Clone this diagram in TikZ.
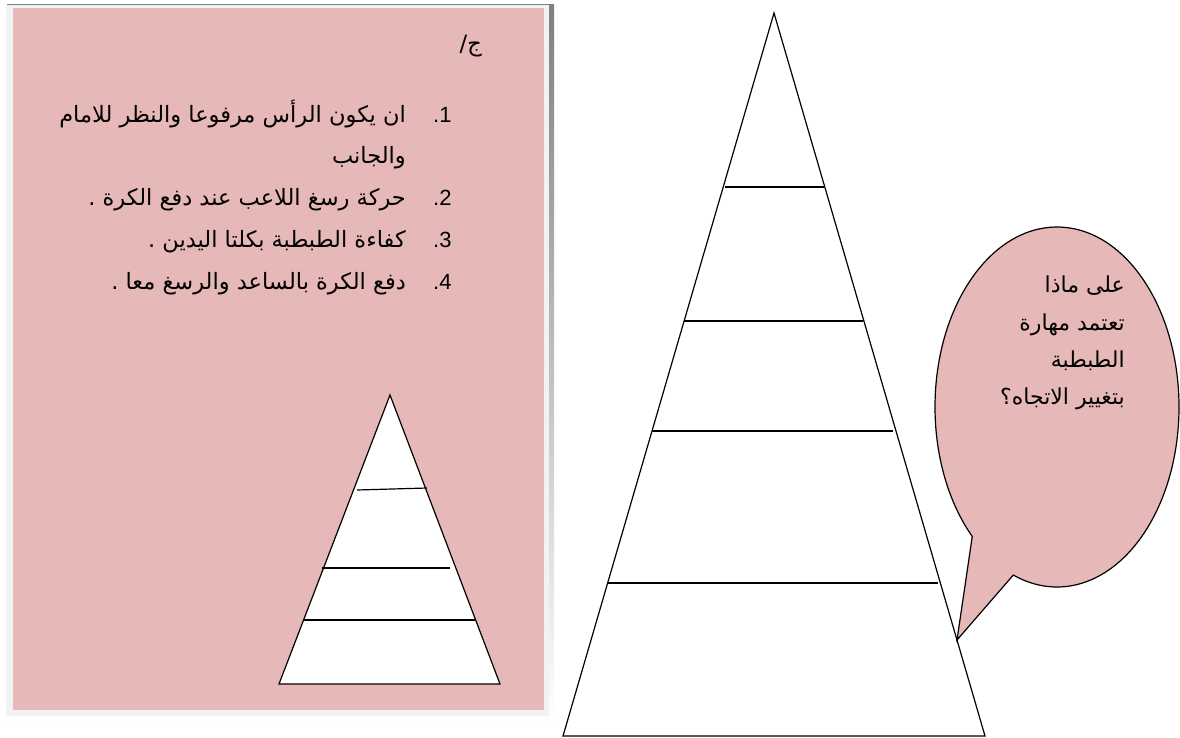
\documentclass[tikz,border=0pt]{standalone}
\usepackage{fontspec}
\setmainfont{Liberation Sans}
\newfontfamily\arabicfont[Script=Arabic]{DejaVu Sans}
\TeXXeTstate=1
\usetikzlibrary{positioning}
\definecolor{rosa}{HTML}{E6B8B7}
\definecolor{frame}{HTML}{F2F2F2}
\definecolor{shade}{HTML}{8EA9B0}
\tikzset{
  band/.style={draw=black, line width=1.2pt},
  tri/.style={band, fill=white, line join=miter},
  bubble/.style={band, fill=rosa},
  num/.style={anchor=base west, inner sep=0pt, font=\fontsize{22}{26}\selectfont},
  ar/.style={anchor=base east, inner sep=0pt, font=\arabicfont\fontsize{22.5}{26}\selectfont},
  arq/.style={ar, font=\arabicfont\fontsize{22}{26}\selectfont},
}

\begin{document}
\begin{tikzpicture}[x=1pt, y=-1pt]
  \useasboundingbox (0,0) rectangle (1180,738);
  % answer card
  \fill[shade] (7,5) rectangle (554,723);
  \fill[frame] (6,5) rectangle (549,716);
  \fill[rosa] (13,8) rectangle (544,710);
  \node[ar] (ans) at (482,52) {\beginR ج/\endR};
  \node[num] (n1) at (433,123) {.1};
  \node[num] (n2) at (433,206) {.2};
  \node[num] (n3) at (433,247) {.3};
  \node[num] (n4) at (433,289) {.4};
  \node[ar, left=27pt of n1.base west, anchor=base east] (t1a) {\beginR ان يكون الرأس مرفوعا والنظر للامام\endR};
  \node[ar] (t1b) at (t1a.base east |- 0,164) {\beginR والجانب\endR};
  \node[ar, left=27pt of n2.base west, anchor=base east] (t2) {\beginR حركة رسغ اللاعب عند دفع الكرة .\endR};
  \node[ar, left=27pt of n3.base west, anchor=base east] (t3) {\beginR كفاءة الطبطبة بكلتا اليدين .\endR};
  \node[ar, left=27pt of n4.base west, anchor=base east] (t4) {\beginR دفع الكرة بالساعد والرسغ معا .\endR};
  % small pyramid
  \draw[tri] (390,395) -- (500,684) -- (279,684) -- cycle;
  \draw[band] (357,490) -- (427,488);
  \draw[band] (322,568) -- (450,568);
  \draw[band] (303,620) -- (475,620);
  % big pyramid
  \draw[tri] (774,13) -- (985,736) -- (563,736) -- cycle;
  \draw[band] (725,187) -- (824,187);
  \draw[band] (684,321) -- (863,321);
  \draw[band] (652,431) -- (893,431);
  \draw[band] (607,583) -- (938,583);
  % question bubble
  \coordinate (bc) at (1057,407);
  \coordinate (tip) at (957,640);
  \draw[bubble] (tip) -- ([shift={(134:122 and 180)}]bc)
    arc[start angle=134, end angle=471, x radius=122, y radius=180] -- cycle;
  \node[arq] (q1) at (1125,292) {\beginR على ماذا\endR};
  \node[arq] (q2) at (1125,330) {\beginR تعتمد مهارة\endR};
  \node[arq] (q3) at (1125,367) {\beginR الطبطبة\endR};
  \node[arq] (q4) at (1125,404) {\beginR بتغيير الاتجاه؟\endR};
\end{tikzpicture}
\end{document}
